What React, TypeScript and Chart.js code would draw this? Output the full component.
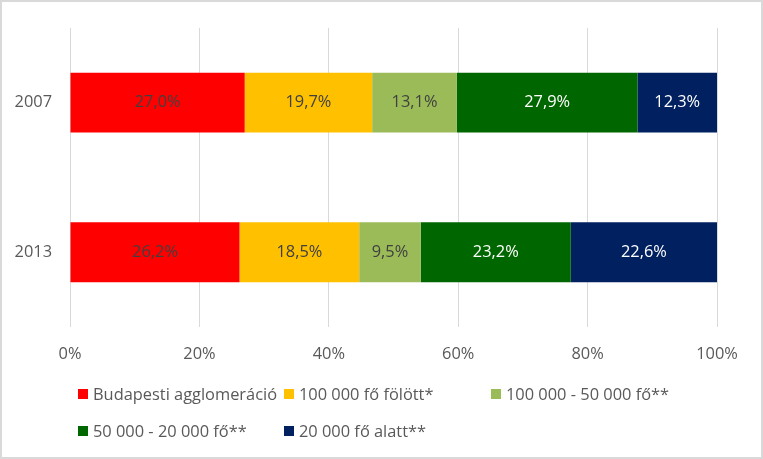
import React, { useEffect, useRef } from "react";
import { Chart, registerables } from "chart.js";

Chart.register(...registerables);

const categories = ["2007", "2013"];
const seriesNames = [
  "Budapesti agglomeráció",
  "100 000 fő fölött*",
  "100 000 - 50 000 fő**",
  "50 000 - 20 000 fő**",
  "20 000 fő alatt**",
];
const budapest = [27.0, 26.2];
const over100k = [19.7, 18.5];
const from100kTo50k = [13.1, 9.5];
const from50kTo20k = [27.9, 23.2];
const under20k = [12.3, 22.6];
const seriesValues = [budapest, over100k, from100kTo50k, from50kTo20k, under20k];

const colors = ["#FF0000", "#FFC000", "#9BBB59", "#006600", "#002060"];
const labelColors = ["#404040", "#404040", "#404040", "#FFFFFF", "#FFFFFF"];

const FONT = "'Open Sans', 'Liberation Sans', sans-serif";
const FONT_SIZE = 16.4;
const TEXT = "#595959";

const fmt = (v: number) => v.toFixed(1).replace(".", ",") + "%";

const dataLabelPlugin = {
  id: "dataLabels",
  afterDatasetsDraw(chart: any) {
    const ctx = chart.ctx;
    ctx.save();
    ctx.font = `${FONT_SIZE}px ${FONT}`;
    ctx.textAlign = "center";
    ctx.textBaseline = "middle";
    chart.data.datasets.forEach((ds: any, di: number) => {
      const meta = chart.getDatasetMeta(di);
      meta.data.forEach((el: any, i: number) => {
        const p = el.getProps(["x", "y", "base"], true);
        ctx.fillStyle = labelColors[di];
        ctx.fillText(fmt(ds.data[i]), (p.x + p.base) / 2, p.y);
      });
    });
    ctx.restore();
  },
};

const legendCols = [78, 284, 491];
const legendRows = [394, 431];

const legendPlugin = {
  id: "customLegend",
  afterDraw(chart: any) {
    const ctx = chart.ctx;
    ctx.save();
    ctx.font = `${FONT_SIZE}px ${FONT}`;
    ctx.textAlign = "left";
    ctx.textBaseline = "middle";
    chart.data.datasets.forEach((ds: any, i: number) => {
      const x = legendCols[i % 3];
      const y = legendRows[Math.floor(i / 3)];
      ctx.fillStyle = ds.backgroundColor;
      ctx.fillRect(x, y - 5, 10, 10);
      ctx.fillStyle = TEXT;
      ctx.fillText(ds.label, x + 15, y + 1);
    });
    ctx.restore();
  },
};

export default function App() {
  const ref = useRef<HTMLCanvasElement>(null);

  useEffect(() => {
    if (!ref.current) return;
    const chart = new Chart(ref.current, {
      type: "bar",
      data: {
        labels: categories,
        datasets: seriesNames.map((name, i) => ({
          label: name,
          data: seriesValues[i],
          backgroundColor: colors[i],
          borderWidth: 0,
          barPercentage: 0.4,
          categoryPercentage: 1,
        })),
      },
      options: {
        indexAxis: "y",
        responsive: false,
        animation: false,
        devicePixelRatio: 1,
        layout: { padding: { left: 0, top: 23, right: 46, bottom: 92 } },
        plugins: {
          legend: { display: false },
          tooltip: { enabled: false },
        },
        scales: {
          x: {
            stacked: true,
            min: 0,
            max: 100,
            ticks: {
              stepSize: 20,
              callback: (v: any) => v + "%",
              color: TEXT,
              font: { family: FONT, size: FONT_SIZE },
              padding: 17,
            },
            grid: { color: "#D9D9D9", drawTicks: false, lineWidth: 1 },
            border: { display: false },
            afterFit: (s: any) => {
              s.height = 40;
            },
          },
          y: {
            stacked: true,
            ticks: {
              color: TEXT,
              font: { family: FONT, size: FONT_SIZE },
              padding: 18,
            },
            grid: { display: false, drawTicks: false },
            border: { display: false },
            afterFit: (s: any) => {
              s.width = 70;
            },
          },
        },
      },
      plugins: [dataLabelPlugin, legendPlugin],
    } as any);
    return () => chart.destroy();
  }, []);

  return (
    <div style={{ position: "fixed", left: 0, top: 0, width: 763, height: 459, background: "#fff" }}>
      <canvas ref={ref} width={763} height={459} style={{ display: "block" }} />
      <div
        style={{
          position: "absolute",
          left: 0,
          top: 0,
          width: 763,
          height: 459,
          boxSizing: "border-box",
          border: "2px solid #D9D9D9",
          pointerEvents: "none",
        }}
      />
    </div>
  );
}
